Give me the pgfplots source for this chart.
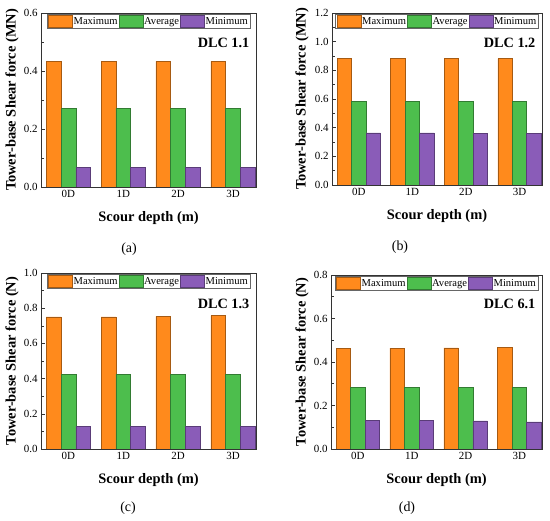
\documentclass[border=0pt]{standalone}
\usepackage{fontspec}
\setmainfont{Liberation Serif}
\usepackage{pgfplots}
\pgfplotsset{compat=1.18}
\definecolor{cOr}{HTML}{FF8A1C}
\definecolor{cGr}{HTML}{4DBE4D}
\definecolor{cPu}{HTML}{8A5CB8}
\newcommand{\fs}[1]{\fontsize{#1}{#1}\selectfont}
\pgfplotsset{
  mybar/.style={fill=#1, draw=#1!65!black, line width=0.5bp,
    legend image code/.code={\draw[fill=#1, draw=#1!65!black, line width=0.5bp] (0bp,-6bp) rectangle (24bp,6bp);}},
  panel/.style={
    scale only axis, ybar, bar width=0.27,
    xmin=-0.5, xmax=3.42, ymin=0,
    xtick={0,1,2,3}, xticklabels={0D,1D,2D,3D},
    xtick pos=bottom, ytick pos=left,
    tick align=inside,
    major tick length=4bp, minor tick length=2.5bp,
    tick style={black!80, line width=0.5bp},
    axis line style={black!80, line width=0.6bp},
    /pgf/number format/.cd, fixed, fixed zerofill, precision=1, assume math mode=true, /pgfplots/.cd,
    ticklabel style={font=\fs{11}},
    xlabel={Scour depth (m)},
    label style={font=\fs{14.5}\bfseries},
    xlabel style={at={(axis description cs:0.5,0)}, anchor=center, yshift=-31bp},
    legend style={at={(0.5,1)}, yshift=-1.5bp, anchor=north, legend columns=3,
      draw=black!60, line width=0.5bp, inner xsep=1bp, inner ysep=0.3bp, font=\fs{10.6},
      nodes={inner sep=1bp},
      /tikz/every even column/.style={column sep=0pt}},
    legend cell align=left,
  }
}
\begin{document}
\begin{tikzpicture}[x=1bp,y=1bp]
\useasboundingbox (0,0) rectangle (550,521);
% (a)
\begin{axis}[panel, at={(41bp,334bp)}, anchor=south west, width=215bp, height=174bp,
  ymax=0.6, ytick={0,0.2,0.4,0.6}, minor ytick={0.1,0.3,0.5},
  ylabel={Tower-base Shear force (MN)},
  ylabel style={at={(axis description cs:-0.135,0.5)}, anchor=center}]
\addplot[mybar=cOr, bar shift=-0.27] coordinates {(0,0.433) (1,0.433) (2,0.433) (3,0.433)};
\addplot[mybar=cGr, bar shift=0] coordinates {(0,0.272) (1,0.272) (2,0.272) (3,0.272)};
\addplot[mybar=cPu, bar shift=0.27] coordinates {(0,0.068) (1,0.068) (2,0.068) (3,0.068)};
\legend{Maximum,Average,Minimum}
\node[anchor=east, font=\fs{14.3}\bfseries] at (rel axis cs:0.985,0.828) {DLC 1.1};
\end{axis}
% (b)
\begin{axis}[panel, at={(332bp,336bp)}, anchor=south west, width=210bp, height=172bp,
  ymax=1.2, ytick={0,0.2,0.4,0.6,0.8,1.0,1.2}, minor ytick={0.1,0.3,0.5,0.7,0.9,1.1},
  ylabel={Tower-base Shear force (MN)},
  ylabel style={at={(axis description cs:-0.143,0.5)}, anchor=center}]
\addplot[mybar=cOr, bar shift=-0.27] coordinates {(0,0.885) (1,0.884) (2,0.882) (3,0.881)};
\addplot[mybar=cGr, bar shift=0] coordinates {(0,0.582) (1,0.582) (2,0.582) (3,0.582)};
\addplot[mybar=cPu, bar shift=0.27] coordinates {(0,0.364) (1,0.363) (2,0.362) (3,0.359)};
\legend{Maximum,Average,Minimum}
\node[anchor=east, font=\fs{14.3}\bfseries] at (rel axis cs:0.985,0.828) {DLC 1.2};
\end{axis}
% (c)
\begin{axis}[panel, at={(41bp,72bp)}, anchor=south west, width=215bp, height=176bp,
  ymax=1.0, ytick={0,0.2,0.4,0.6,0.8,1.0}, minor ytick={0.1,0.3,0.5,0.7,0.9},
  ylabel={Tower-base Shear force (N)},
  ylabel style={at={(axis description cs:-0.135,0.5)}, anchor=center}]
\addplot[mybar=cOr, bar shift=-0.27] coordinates {(0,0.750) (1,0.751) (2,0.754) (3,0.758)};
\addplot[mybar=cGr, bar shift=0] coordinates {(0,0.425) (1,0.425) (2,0.425) (3,0.425)};
\addplot[mybar=cPu, bar shift=0.27] coordinates {(0,0.128) (1,0.128) (2,0.130) (3,0.128)};
\legend{Maximum,Average,Minimum}
\node[anchor=east, font=\fs{14.3}\bfseries] at (rel axis cs:0.985,0.824) {DLC 1.3};
\end{axis}
% (d)
\begin{axis}[panel, at={(331bp,72bp)}, anchor=south west, width=211bp, height=174bp,
  ymax=0.8, ytick={0,0.2,0.4,0.6,0.8}, minor ytick={0.1,0.3,0.5,0.7},
  ylabel={Tower-base Shear force (N)},
  ylabel style={at={(axis description cs:-0.137,0.5)}, anchor=center}]
\addplot[mybar=cOr, bar shift=-0.27] coordinates {(0,0.464) (1,0.464) (2,0.465) (3,0.466)};
\addplot[mybar=cGr, bar shift=0] coordinates {(0,0.285) (1,0.285) (2,0.285) (3,0.285)};
\addplot[mybar=cPu, bar shift=0.27] coordinates {(0,0.131) (1,0.131) (2,0.129) (3,0.125)};
\legend{Maximum,Average,Minimum}
\node[anchor=east, font=\fs{14.3}\bfseries] at (rel axis cs:0.985,0.833) {DLC 6.1};
\end{axis}
\node[font=\fs{14}] at (129,272) {(a)};
\node[font=\fs{14}] at (400,274) {(b)};
\node[font=\fs{14}] at (128,13) {(c)};
\node[font=\fs{14}] at (407,13) {(d)};
\end{tikzpicture}
\end{document}
